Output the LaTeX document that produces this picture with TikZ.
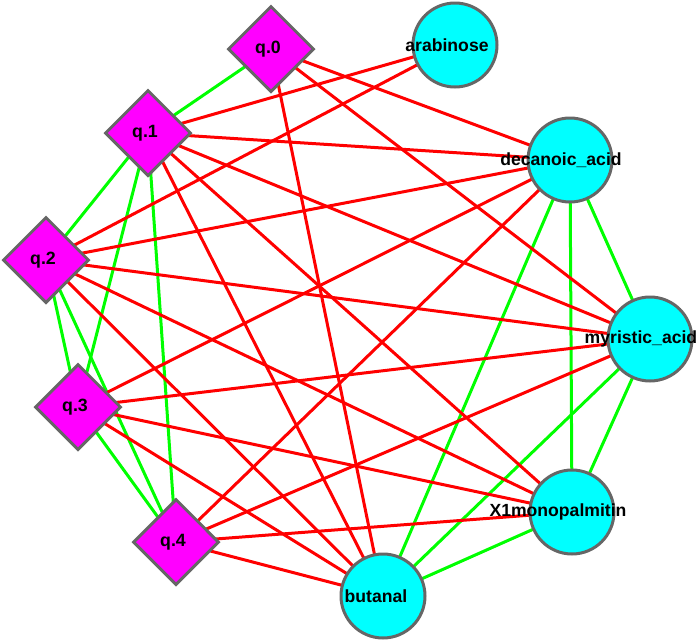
\documentclass[tikz,border=0pt]{standalone}
\usepackage{fontspec}
\setmainfont{Liberation Sans}
\usetikzlibrary{shapes.geometric}
\pgfdeclarelayer{bg}
\pgfsetlayers{bg,main}
\definecolor{nodeborder}{HTML}{666666}
\definecolor{mag}{HTML}{FF00FF}
\definecolor{cyn}{HTML}{00FFFF}
\definecolor{grn}{HTML}{00FF00}
\definecolor{rd}{HTML}{FF0000}
\tikzset{
  qnode/.style={shape=diamond, aspect=1, draw=nodeborder, line width=3pt, fill=mag,
    minimum size=86pt, inner sep=0pt, font=\fontsize{17.8}{20}\selectfont\bfseries},
  mnode/.style={shape=circle, draw=nodeborder, line width=3pt, fill=cyn,
    minimum size=84pt, inner sep=0pt},
  mlabel/.style={font=\fontsize{17.6}{20}\selectfont\bfseries, inner sep=0pt},
  gedge/.style={draw=grn, line width=3pt},
  redge/.style={draw=rd, line width=3pt},
}
\begin{document}
\begin{tikzpicture}[x=1pt,y=-1pt]
\useasboundingbox (0,0) rectangle (697,641);
% diamonds
\node[qnode] (q0) at (271,49) {\hspace*{-6pt}q.0};
\node[qnode] (q1) at (148,133) {\hspace*{-6pt}q.1};
\node[qnode] (q2) at (46,260) {\hspace*{-6pt}q.2};
\node[qnode] (q3) at (78,407) {\hspace*{-6pt}q.3};
\node[qnode] (q4) at (176,542) {\hspace*{-6pt}q.4};
% circles
\node[mnode, label={[mlabel, xshift=-8pt]center:arabinose}] (ara) at (455,45) {};
\node[mnode, label={[mlabel, xshift=-9pt]center:decanoic\_acid}] (dec) at (570,160) {};
\node[mnode, label={[mlabel, xshift=-9pt]center:myristic\_acid}] (myr) at (650,339) {};
\node[mnode, label={[mlabel, xshift=-14pt]center:X1monopalmitin}] (x1m) at (572,512) {};
\node[mnode, label={[mlabel, xshift=-7pt]center:butanal}] (but) at (383,596) {};
\begin{pgfonlayer}{bg}
% green edges
\foreach \a/\b in {q0/q1, q1/q2, q1/q3, q1/q4, q2/q3, q2/q4, q3/q4,
  dec/myr, dec/x1m, dec/but, myr/x1m, myr/but, x1m/but}
  \draw[gedge] (\a.center) -- (\b.center);
% red edges
\foreach \a/\b in {q0/dec, q0/myr, q0/but,
  q1/ara, q1/dec, q1/myr, q1/x1m, q1/but,
  q2/ara, q2/dec, q2/myr, q2/x1m, q2/but,
  q3/dec, q3/myr, q3/x1m, q3/but,
  q4/dec, q4/myr, q4/x1m, q4/but}
  \draw[redge] (\a.center) -- (\b.center);
\end{pgfonlayer}
\end{tikzpicture}
\end{document}
